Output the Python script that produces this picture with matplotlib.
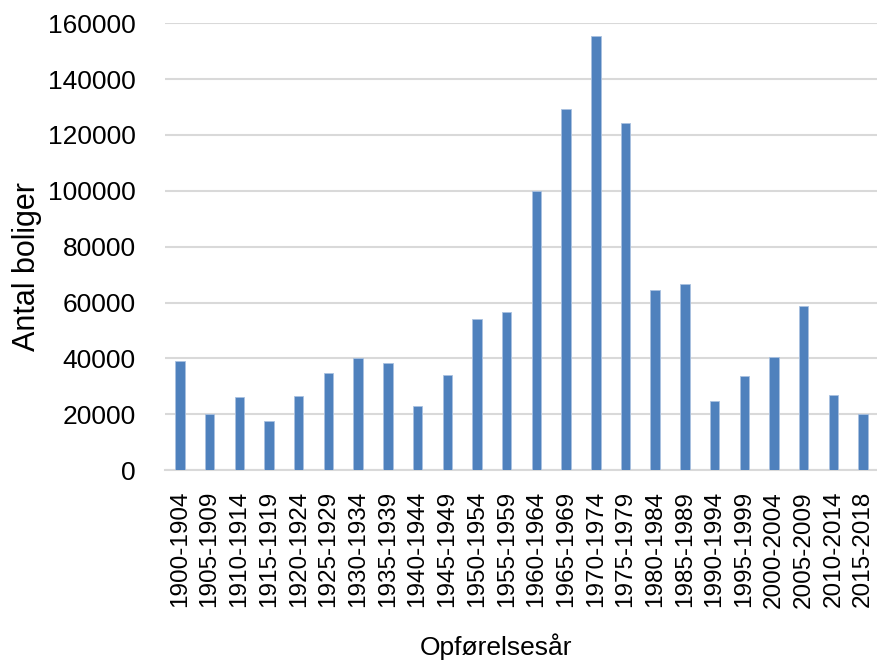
import matplotlib
import matplotlib.pyplot as plt
import numpy as np

matplotlib.use("Agg")

periods = [
    "1900-1904", "1905-1909", "1910-1914", "1915-1919", "1920-1924",
    "1925-1929", "1930-1934", "1935-1939", "1940-1944", "1945-1949",
    "1950-1954", "1955-1959", "1960-1964", "1965-1969", "1970-1974",
    "1975-1979", "1980-1984", "1985-1989", "1990-1994", "1995-1999",
    "2000-2004", "2005-2009", "2010-2014", "2015-2018",
]
dwellings = [
    39100, 20000, 26200, 17600, 26700,
    34600, 40100, 38200, 22900, 34200,
    54200, 56500, 100000, 129300, 155600,
    124300, 64500, 66600, 24800, 33600,
    40400, 58600, 27000, 20200,
]
y_ticks = [0, 20000, 40000, 60000, 80000, 100000, 120000, 140000, 160000]

plt.rcParams["font.family"] = ["Liberation Sans", "DejaVu Sans"]

BAR_COLOR = "#4f81bd"
GRID_COLOR = "#d9d9d9"

fig = plt.figure(figsize=(8.78, 6.64), dpi=100)
ax = fig.add_axes([0.188, 0.292, 0.812, 0.673])

x = np.arange(len(periods))
ax.bar(x, dwellings, width=0.32, color=BAR_COLOR, edgecolor="#a9c1e0",
       linewidth=0.6, zorder=3)

ax.set_xlim(-0.5, len(periods) - 0.5)
ax.set_ylim(0, 160000)
ax.set_yticks(y_ticks)
ax.set_yticklabels([str(v) for v in y_ticks], fontsize=19)
ax.set_xticks(x)
ax.set_xticklabels(periods, rotation=90, fontsize=17.5)
ax.tick_params(axis="y", length=0, pad=21)
ax.tick_params(axis="x", length=0, pad=15)

ax.grid(axis="y", color=GRID_COLOR, linewidth=1.5, zorder=0)
for side in ("top", "right", "left"):
    ax.spines[side].set_visible(False)
ax.spines["bottom"].set_color(GRID_COLOR)
ax.spines["bottom"].set_linewidth(1.5)

ax.set_ylabel("Antal boliger", fontsize=22, va="center", ha="center")
ax.yaxis.set_label_coords(-0.194, 0.456)
ax.set_xlabel("Opførelsesår", fontsize=19, va="center", ha="center")
ax.xaxis.set_label_coords(0.464, -0.396)

fig.savefig("out.png", dpi=100)
